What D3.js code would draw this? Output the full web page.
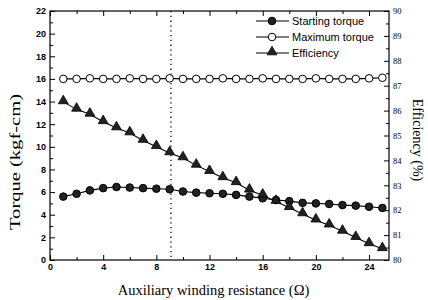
<!DOCTYPE html>
<html>
<head>
<meta charset="utf-8">
<script src="https://cdn.jsdelivr.net/npm/d3@7"></script>
<style>
  body { margin: 0; background: #fff; }
  svg { display: block; }
</style>
</head>
<body>
<svg id="chart" width="428" height="300"></svg>
<script>
// values
var resistance = d3.range(1, 26);
var startingTorque = [5.6, 5.85, 6.15, 6.35, 6.45, 6.4, 6.35, 6.3, 6.25, 6.05, 5.95, 5.9, 5.85,
    5.75, 5.6, 5.45, 5.3, 5.2, 5.05, 5.0, 4.95, 4.85, 4.8, 4.7, 4.6];
var maximumTorque = [16.0, 16.0, 16.05, 16.0, 16.0, 16.05, 16.0, 16.0, 16.05, 16.0, 16.0, 16.0, 16.05,
    16.0, 16.0, 16.05, 16.0, 16.0, 16.0, 16.05, 16.0, 16.0, 16.0, 16.05, 16.1];
var efficiency = [86.35, 86.05, 85.85, 85.55, 85.3, 85.1, 84.8, 84.55, 84.3, 84.1, 83.8, 83.55, 83.3,
    83.1, 82.8, 82.6, 82.35, 82.1, 81.85, 81.6, 81.4, 81.15, 80.9, 80.65, 80.45];
var markerLine = 9.1;
var xTicks = [0, 4, 8, 12, 16, 20, 24];
var leftTicks = [0, 2, 4, 6, 8, 10, 12, 14, 16, 18, 20, 22];
var rightTicks = [80, 81, 82, 83, 84, 85, 86, 87, 88, 89, 90];

var m = { left: 50, right: 39, top: 11, bottom: 40 };
var W = 428, H = 300;
var w = W - m.left - m.right, h = H - m.top - m.bottom;

var svg = d3.select("#chart");
var g = svg.append("g").attr("transform", "translate(" + m.left + "," + m.top + ")");

var x = d3.scaleLinear().domain([0, 25.5]).range([0, w]);
var yL = d3.scaleLinear().domain([0, 22]).range([h, 0]);
var yR = d3.scaleLinear().domain([80, 90]).range([h, 0]);

// frame
g.append("rect").attr("width", w).attr("height", h)
    .attr("fill", "none").attr("stroke", "#000").attr("stroke-width", 1.2);

// inward ticks, majors with labels and minor ones between
function ticks(axis, scale, vals, len, labels) {
    var a = axis(scale).tickValues(vals).tickSizeInner(-len).tickSizeOuter(0);
    if (!labels) a.tickFormat("");
    return a;
}

var xAx = g.append("g").attr("transform", "translate(0," + h + ")")
    .call(ticks(d3.axisBottom, x, xTicks, 5, true).tickPadding(4));
g.append("g").attr("transform", "translate(0," + h + ")")
    .call(ticks(d3.axisBottom, x, d3.range(2, 26, 4), 3, false));
g.append("g").call(ticks(d3.axisTop, x, xTicks, 5, false));
g.append("g").call(ticks(d3.axisTop, x, d3.range(2, 26, 4), 3, false));

var lAx = g.append("g").call(ticks(d3.axisLeft, yL, leftTicks, 5, true).tickPadding(4));
g.append("g").call(ticks(d3.axisLeft, yL, d3.range(1, 22, 2), 3, false));

var rAx = g.append("g").attr("transform", "translate(" + w + ",0)")
    .call(ticks(d3.axisRight, yR, rightTicks, 5, true).tickPadding(4));
g.append("g").attr("transform", "translate(" + w + ",0)")
    .call(ticks(d3.axisRight, yR, d3.range(80.5, 90, 1), 3, false));

g.selectAll(".domain").remove();
g.selectAll(".tick line").attr("stroke", "#000");
xAx.selectAll("text").attr("font-family", "Liberation Sans, Arial, sans-serif")
    .attr("font-size", 9).attr("font-weight", "bold").attr("fill", "#000");
lAx.selectAll("text").attr("font-family", "Liberation Sans, Arial, sans-serif")
    .attr("font-size", 9).attr("font-weight", "bold").attr("fill", "#000");
rAx.selectAll("text").attr("font-family", "Liberation Serif, Times New Roman, serif")
    .attr("font-size", 8.5).attr("fill", "#000");

// dotted reference line
g.append("line")
    .attr("x1", x(markerLine)).attr("x2", x(markerLine))
    .attr("y1", 0).attr("y2", h)
    .attr("stroke", "#000").attr("stroke-width", 1.3)
    .attr("stroke-dasharray", "1.3,3.5");

var tri = d3.symbol().type(d3.symbolTriangle).size(42);

function series(vals, yScale, kind) {
    var pts = vals.map(function (v, i) { return [x(resistance[i]), yScale(v)]; });
    g.append("path").datum(pts)
        .attr("d", d3.line())
        .attr("fill", "none").attr("stroke", "#000").attr("stroke-width", 1.1);
    drawMarks(g, pts, kind);
}

function drawMarks(sel, pts, kind) {
    pts.forEach(function (p) {
        if (kind === "tri") {
            sel.append("path").attr("d", tri)
                .attr("transform", "translate(" + p[0] + "," + (p[1] - 1) + ")")
                .attr("fill", "#222").attr("stroke", "#000").attr("stroke-width", 0.8);
        } else {
            sel.append("circle").attr("cx", p[0]).attr("cy", p[1]).attr("r", 3.8)
                .attr("fill", kind === "open" ? "#fff" : "#222")
                .attr("stroke", "#000").attr("stroke-width", 1);
        }
    });
}

series(startingTorque, yL, "filled");
series(maximumTorque, yL, "open");
series(efficiency, yR, "tri");

// legend
var legend = [
    { name: "Starting torque", kind: "filled" },
    { name: "Maximum torque", kind: "open" },
    { name: "Efficiency", kind: "tri" }
];
var lg = svg.append("g");
legend.forEach(function (d, i) {
    var yy = 21 + i * 16;
    lg.append("line").attr("x1", 256).attr("x2", 289).attr("y1", yy).attr("y2", yy)
        .attr("stroke", "#000").attr("stroke-width", 1.1);
    drawMarks(lg, [[272, yy]], d.kind);
    lg.append("text").attr("x", 292).attr("y", yy + 4)
        .attr("font-family", "Liberation Sans, Arial, sans-serif").attr("font-size", 11)
        .text(d.name);
});

// axis titles
svg.append("text")
    .attr("x", m.left + w / 2 - 6).attr("y", 295)
    .attr("text-anchor", "middle")
    .attr("font-family", "Liberation Serif, Times New Roman, serif").attr("font-size", 14.5)
    .text("Auxiliary winding resistance (\u03A9)");

svg.append("text")
    .attr("transform", "translate(20," + 162 + ") rotate(-90)")
    .attr("text-anchor", "middle")
    .attr("font-family", "Liberation Serif, Times New Roman, serif").attr("font-size", 15)
    .attr("textLength", 136).attr("lengthAdjust", "spacingAndGlyphs")
    .text("Torque (kgf-cm)");

svg.append("text")
    .attr("transform", "translate(413," + 140 + ") rotate(90)")
    .attr("text-anchor", "middle")
    .attr("font-family", "Liberation Serif, Times New Roman, serif").attr("font-size", 14)
    .text("Efficiency (%)");
</script>
</body>
</html>
